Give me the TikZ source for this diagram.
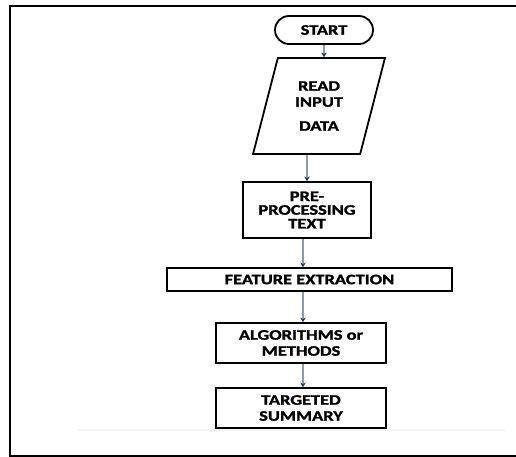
\documentclass[tikz,border=0pt]{standalone}
\usepackage{fontspec}
\setmainfont{Carlito}[FakeStretch=1.27,FakeBold=1.5]
\usetikzlibrary{arrows.meta,shapes.geometric}
\definecolor{linec}{HTML}{8A9AB0}
\definecolor{tipc}{HTML}{1F3864}
\begin{document}
\begin{tikzpicture}[x=1pt,y=-1pt,
  box/.style={draw=black,line width=1.8pt,inner sep=0pt,align=center,
    font=\bfseries\fontsize{14.5}{16}\selectfont},
  flow/.style={draw=linec,line width=1.4pt,-{Stealth[length=4.5pt,width=5.5pt,color=tipc]}}]
\useasboundingbox (0,0) rectangle (516,457);
\draw[line width=2pt] (516,6) -- (10,6) -- (10,456) -- (516,456);
\draw[black!4,line width=1.5pt] (78,430) -- (505,430);
\node[box,minimum width=98pt,minimum height=28pt,rounded corners=14pt] (start) at (324,30) {START};
\node[box,trapezium,trapezium left angle=73.7,trapezium right angle=106.3,
  trapezium stretches=true,minimum width=132pt,minimum height=96pt] (read) at (319,106)
  {READ\\INPUT\\[8pt]DATA};
\node[box,minimum width=128pt,minimum height=56pt,font=\bfseries\fontsize{14.5}{13.7}\selectfont] (pre) at (307,210) {PRE-\\PROCESSING\\TEXT};
\node[box,minimum width=285pt,minimum height=23pt] (feat) at (309.5,279.5) {FEATURE EXTRACTION};
\node[box,minimum width=170pt,minimum height=40pt] (algo) at (301,343) {ALGORITHMS or\\METHODS};
\node[box,minimum width=170pt,minimum height=40pt] (targ) at (301,408) {TARGETED\\SUMMARY};
\coordinate (col) at (303,0);
\draw[flow] (start.south) -- (start.south |- read.north);
\draw[flow] (pre.north |- read.south) -- (pre.north);
\draw[flow] (col |- pre.south) -- (col |- feat.north);
\draw[flow] (col |- feat.south) -- (col |- algo.north);
\draw[flow] (col |- algo.south) -- (col |- targ.north);
\end{tikzpicture}
\end{document}
